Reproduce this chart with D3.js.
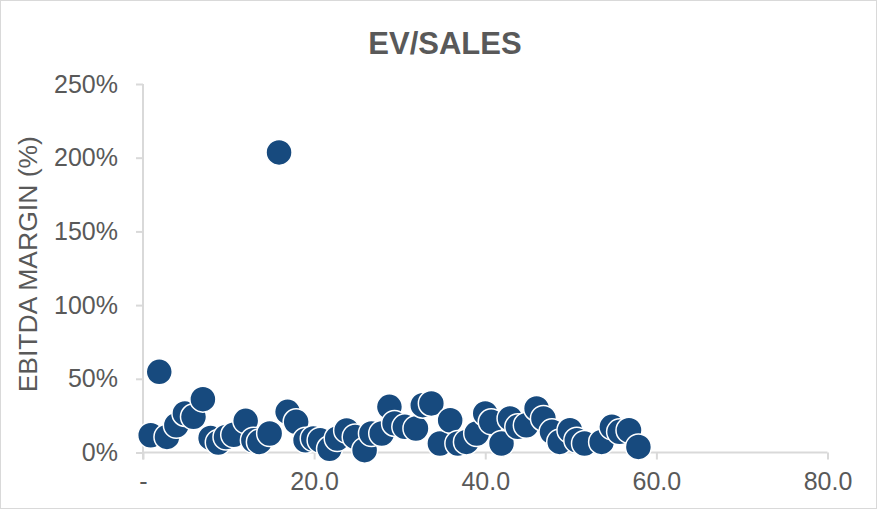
<!DOCTYPE html>
<html>
<head>
<meta charset="utf-8">
<script src="https://cdn.jsdelivr.net/npm/d3@7"></script>
<style>
  html, body { margin: 0; padding: 0; background: #fff; }
  svg { display: block; }
</style>
</head>
<body>
<svg id="chart" width="877" height="509"></svg>
<script>
// ---- data ----
const title = "EV/SALES";
const yAxisTitle = "EBITDA MARGIN (%)";
const evSales = [0.9, 1.9, 2.8, 3.9, 4.9, 5.9, 7.0, 7.9, 8.8, 9.7, 10.6, 12.0, 12.9, 13.6, 14.8, 15.9, 16.9, 17.9, 19.0, 19.9,
  20.7, 21.8, 22.7, 23.8, 24.8, 25.9, 26.7, 27.9, 28.8, 29.4, 30.6, 31.9, 32.7, 33.7, 34.7, 35.9, 36.8, 37.8, 39.0, 40.0,
  40.7, 41.9, 42.9, 43.8, 44.8, 46.0, 46.8, 47.8, 48.7, 49.9, 50.7, 51.6, 53.6, 54.8, 55.7, 56.8, 57.9];
const ebitdaMargin = [11.7, 54.7, 10.6, 18.5, 26.5, 24.2, 36.2, 9.9, 6.8, 10.5, 12.0, 21.5, 8.3, 7.2, 12.9, 203.6, 27.6, 20.8, 8.3, 9.5,
  8.3, 2.5, 9.5, 15.0, 10.6, 1.6, 12.9, 12.9, 31.0, 19.7, 17.4, 16.3, 32.1, 33.3, 6.1, 21.9, 6.1, 7.2, 12.9, 26.5,
  20.8, 6.1, 23.1, 17.4, 18.5, 29.9, 23.1, 14.0, 7.2, 15.1, 8.3, 6.1, 7.2, 17.4, 14.0, 15.1, 3.8];
const xTicks = [0, 20, 40, 60, 80];
const xTickLabels = ["-", "20.0", "40.0", "60.0", "80.0"];
const yTicks = [0, 50, 100, 150, 200, 250];
const yTickLabels = ["0%", "50%", "100%", "150%", "200%", "250%"];

// ---- layout ----
const W = 877, H = 509;
const plot = { left: 143, right: 827.5, top: 84, bottom: 452.5 };
const gray = "#595959", axisGray = "#d9d9d9", dot = "#174A7E";
const font = "'Liberation Sans', Arial, sans-serif";

const svg = d3.select("#chart");

svg.append("rect").attr("x", 0.5).attr("y", 0.5).attr("width", W - 1).attr("height", H - 1)
  .attr("fill", "#fff").attr("stroke", axisGray).attr("stroke-width", 1);

const x = d3.scaleLinear().domain([0, 80]).range([plot.left, plot.right]);
const y = d3.scaleLinear().domain([0, 250]).range([plot.bottom, plot.top]);

// x axis
const xAxis = d3.axisBottom(x).tickValues(xTicks)
  .tickFormat((d, i) => xTickLabels[i]).tickSize(7).tickPadding(13);
const gx = svg.append("g").attr("transform", `translate(0,${plot.bottom})`).call(xAxis);
gx.select(".domain").attr("stroke", axisGray).attr("stroke-width", 2).attr("d", `M${plot.left},0H${plot.right}`);
gx.selectAll(".tick line").attr("stroke", axisGray).attr("stroke-width", 2);
gx.selectAll(".tick text").attr("fill", gray).attr("font-size", 25).attr("font-family", font);

// y axis
const yAxis = d3.axisLeft(y).tickValues(yTicks)
  .tickFormat((d, i) => yTickLabels[i]).tickSize(7).tickPadding(18);
const gy = svg.append("g").attr("transform", `translate(${plot.left},0)`).call(yAxis);
gy.select(".domain").attr("stroke", axisGray).attr("stroke-width", 2).attr("d", `M0,${plot.top}V${plot.bottom + 7}`);
gy.selectAll(".tick line").attr("stroke", axisGray).attr("stroke-width", 2);
gy.selectAll(".tick text").attr("fill", gray).attr("font-size", 25).attr("font-family", font);

// points
const pts = evSales.map((v, i) => ({ x: v, y: ebitdaMargin[i] }));
svg.append("g").selectAll("circle").data(pts).join("circle")
  .attr("cx", d => x(d.x)).attr("cy", d => y(d.y)).attr("r", 13)
  .attr("fill", dot).attr("stroke", "#fff").attr("stroke-width", 1.5);

// title
svg.append("text").attr("x", 445).attr("y", 54).attr("text-anchor", "middle")
  .attr("font-family", font).attr("font-weight", "bold").attr("font-size", 31)
  .attr("fill", gray).text(title);

// y axis title
svg.append("text").attr("transform", `translate(37,${(plot.top + plot.bottom) / 2 - 4}) rotate(-90)`)
  .attr("text-anchor", "middle").attr("font-family", font).attr("font-size", 26.5)
  .attr("fill", gray).text(yAxisTitle);
</script>
</body>
</html>
